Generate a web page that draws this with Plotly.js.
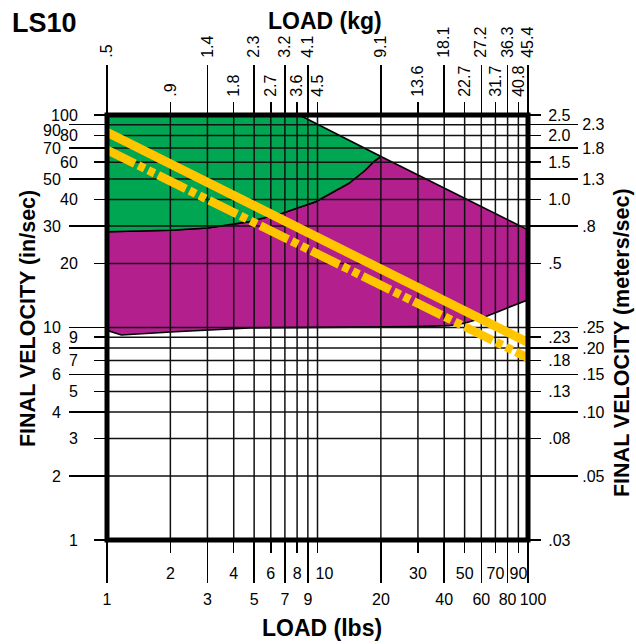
<!DOCTYPE html>
<html><head><meta charset="utf-8">
<script src="https://cdn.plot.ly/plotly-3.0.1.min.js"></script>
<style>html,body{margin:0;padding:0;background:#fff}#chart{width:636px;height:644px}</style>
</head><body><div id="chart"></div>
<script>
// ---- tick values / labels ----
const LBS_LONG = [1, 3, 5, 7, 9, 20, 40, 60, 80, 100];
const LBS_SHORT = [2, 4, 6, 8, 10, 30, 50, 70, 90];
const KG_LONG = ['.5', '1.4', '2.3', '3.2', '4.1', '9.1', '18.1', '27.2', '36.3', '45.4'];
const KG_SHORT = ['.9', '1.8', '2.7', '3.6', '4.5', '13.6', '22.7', '31.7', '40.8'];
const INS_SHORT = [1, 3, 5, 7, 9, 20, 40, 60, 80, 100];
const INS_LONG = [2, 4, 6, 8, 10, 30, 50, 70, 90];
const MS_SHORT = ['.03', '.08', '.13', '.18', '.23', '.5', '1.0', '1.5', '2.0', '2.5'];
const MS_LONG = ['.05', '.10', '.15', '.20', '.25', '.8', '1.3', '1.8', '2.3'];

// ---- region boundaries (load in lbs, final velocity in in/sec) ----
const LIMIT_LOAD = [8.2, 20, 100];
const LIMIT_VEL = [100, 63.8, 28.8];
const SPLIT_LOAD = [1, 2, 3, 4.75, 6.8, 9.8, 14.1, 16.9, 18.5, 20];
const SPLIT_VEL = [28.2, 28.7, 29.4, 31.5, 34.5, 39.1, 47.7, 55.1, 60.3, 63.8];
const FLOOR_LOAD = [1, 1.17, 2.1, 4.75, 10, 30, 42, 50, 60, 72, 100];
const FLOOR_VEL = [9.7, 9.22, 9.55, 9.95, 10.05, 10.1, 10.2, 10.47, 11.05, 11.87, 13.5];

// ---- yellow lines ----
const SOLID_LOAD = [1, 100];
const SOLID_VEL = [83, 8.5];
const DASH_LOAD = [1, 100];
const DASH_VEL = [68.5, 7.2];

const F = '"Liberation Sans", Arial, Helvetica, sans-serif';
const GREEN = '#00a651', PURPLE = '#b41f8e', YELLOW = '#ffc600';

const greenX = [1].concat(LIMIT_LOAD.slice(0, 2), SPLIT_LOAD.slice().reverse());
const greenY = [100].concat(LIMIT_VEL.slice(0, 2), SPLIT_VEL.slice().reverse());
const purpleX = SPLIT_LOAD.concat(LIMIT_LOAD.slice(2), FLOOR_LOAD.slice().reverse());
const purpleY = SPLIT_VEL.concat(LIMIT_VEL.slice(2), FLOOR_VEL.slice().reverse());

const gx = [], gy = [];
LBS_LONG.concat(LBS_SHORT).forEach(v => { gx.push(v, v, null); gy.push(1, 100, null); });
INS_LONG.concat(INS_SHORT).forEach(v => { gx.push(1, 100, null); gy.push(v, v, null); });

const base = {hoverinfo: 'skip', showlegend: false};
const traces = [
  Object.assign({x: purpleX, y: purpleY, mode: 'lines', fill: 'toself', fillcolor: PURPLE,
    line: {color: '#000', width: 1.6}}, base),
  Object.assign({x: greenX, y: greenY, mode: 'lines', fill: 'toself', fillcolor: GREEN,
    line: {color: '#000', width: 1.6}}, base),
  Object.assign({x: gx, y: gy, mode: 'lines', line: {color: '#111', width: 1.5}, connectgaps: false}, base),
  Object.assign({x: SOLID_LOAD, y: SOLID_VEL, mode: 'lines', line: {color: YELLOW, width: 9}}, base),
  Object.assign({x: DASH_LOAD, y: DASH_VEL, mode: 'lines',
    line: {color: YELLOW, width: 8.5, dash: '31px,4px,7px,4px,7px,4px'}}, base)
];
[['x2', 'y'], ['x3', 'y'], ['x4', 'y'], ['x5', 'y'], ['x6', 'y'], ['x', 'y2'], ['x', 'y3'], ['x', 'y4'], ['x', 'y5']].forEach(p => {
  traces.push(Object.assign({x: [null], y: [null], xaxis: p[0], yaxis: p[1], mode: 'lines'}, base));
});

const common = {type: 'log', range: [0, 2], showgrid: false, zeroline: false, showline: false,
  ticks: 'outside', tickwidth: 1.5, tickcolor: '#000', tickmode: 'array', fixedrange: true,
  tickfont: {family: F, size: 16, color: '#000'}};
const ax = (o) => Object.assign({}, common, o);

// labels drawn by their own small axes so they can sit slightly off their tick, as in the original
const LAST_LONG = LBS_LONG[LBS_LONG.length - 1];
const TEN = 10;
const TOP_LONG = INS_LONG[INS_LONG.length - 1];

const layout = {
  width: 636, height: 644,
  margin: {l: 107, r: 108, t: 115, b: 104},
  paper_bgcolor: '#fff', plot_bgcolor: '#fff',
  showlegend: false,
  xaxis: ax({side: 'bottom', anchor: 'y', tickvals: LBS_LONG, ticktext: LBS_LONG.map(v => v === LAST_LONG ? '' : String(v)), ticklen: 42, tickangle: 0, ticklabelstandoff: 3}),
  xaxis2: ax({overlaying: 'x', side: 'bottom', anchor: 'y', tickvals: LBS_SHORT, ticktext: LBS_SHORT.map(v => v === TEN ? '' : String(v)), ticklen: 12, tickangle: 0, ticklabelstandoff: 7}),
  xaxis5: ax({overlaying: 'x', side: 'bottom', anchor: 'y', tickvals: [LAST_LONG], ticktext: [String(LAST_LONG)], ticklen: 42, tickangle: 0, ticklabelstandoff: 3, ticklabelshift: 5}),
  xaxis6: ax({overlaying: 'x', side: 'bottom', anchor: 'y', tickvals: [TEN], ticktext: [String(TEN)], ticklen: 12, tickangle: 0, ticklabelstandoff: 7, ticklabelshift: 7}),
  xaxis3: ax({overlaying: 'x', side: 'top', anchor: 'y', tickvals: LBS_LONG, ticktext: KG_LONG, ticklen: 49, tickangle: -90, ticklabelstandoff: 4}),
  xaxis4: ax({overlaying: 'x', side: 'top', anchor: 'y', tickvals: LBS_SHORT, ticktext: KG_SHORT, ticklen: 12, tickangle: -90, ticklabelstandoff: 2}),
  yaxis: ax({side: 'left', anchor: 'x', tickvals: INS_LONG, ticktext: INS_LONG.map(v => v === TOP_LONG ? '' : String(v)), ticklen: 37, tickangle: 0, ticklabelstandoff: 5}),
  yaxis5: ax({overlaying: 'y', side: 'left', anchor: 'x', tickvals: [TOP_LONG], ticktext: [String(TOP_LONG)], ticklen: 37, tickangle: 0, ticklabelstandoff: 5, ticklabelshift: 6}),
  yaxis2: ax({overlaying: 'y', side: 'left', anchor: 'x', tickvals: INS_SHORT, ticktext: INS_SHORT.map(String), ticklen: 12, tickangle: 0, ticklabelstandoff: 13}),
  yaxis3: ax({overlaying: 'y', side: 'right', anchor: 'x', tickvals: INS_LONG, ticktext: MS_LONG, ticklen: 49, tickangle: 0, ticklabelstandoff: 1}),
  yaxis4: ax({overlaying: 'y', side: 'right', anchor: 'x', tickvals: INS_SHORT, ticktext: MS_SHORT, ticklen: 12, tickangle: 0, ticklabelstandoff: 4}),
  shapes: [{type: 'rect', xref: 'paper', yref: 'paper', x0: 0, x1: 1, y0: 0, y1: 1,
    line: {color: '#000', width: 5}, layer: 'above'}],
  annotations: [
    {text: '<b>LS10</b>', xref: 'paper', yref: 'paper', x: -0.2304, y: 1.2153, xanchor: 'left', yanchor: 'middle',
      showarrow: false, font: {family: F, size: 27, color: '#000'}},
    {text: '<b>LOAD (kg)</b>', xref: 'paper', yref: 'paper', x: 0.5178, y: 1.2212, xanchor: 'center', yanchor: 'middle',
      showarrow: false, font: {family: F, size: 23, color: '#000'}},
    {text: '<b>LOAD (lbs)</b>', xref: 'paper', yref: 'paper', x: 0.511, y: -0.207, xanchor: 'center', yanchor: 'middle',
      showarrow: false, font: {family: F, size: 23, color: '#000'}},
    {text: '<b>FINAL VELOCITY (in/sec)</b>', xref: 'paper', yref: 'paper', x: -0.1876, y: 0.52, xanchor: 'center', yanchor: 'middle',
      textangle: -90, showarrow: false, font: {family: F, size: 21.5, color: '#000'}},
    {text: '<b>FINAL VELOCITY (meters/sec)</b>', xref: 'paper', yref: 'paper', x: 1.2233, y: 0.4635, xanchor: 'center', yanchor: 'middle',
      textangle: -90, showarrow: false, font: {family: F, size: 21.5, color: '#000'}}
  ]
};

Plotly.newPlot('chart', traces, layout, {staticPlot: true, displayModeBar: false});
</script>
</body></html>
